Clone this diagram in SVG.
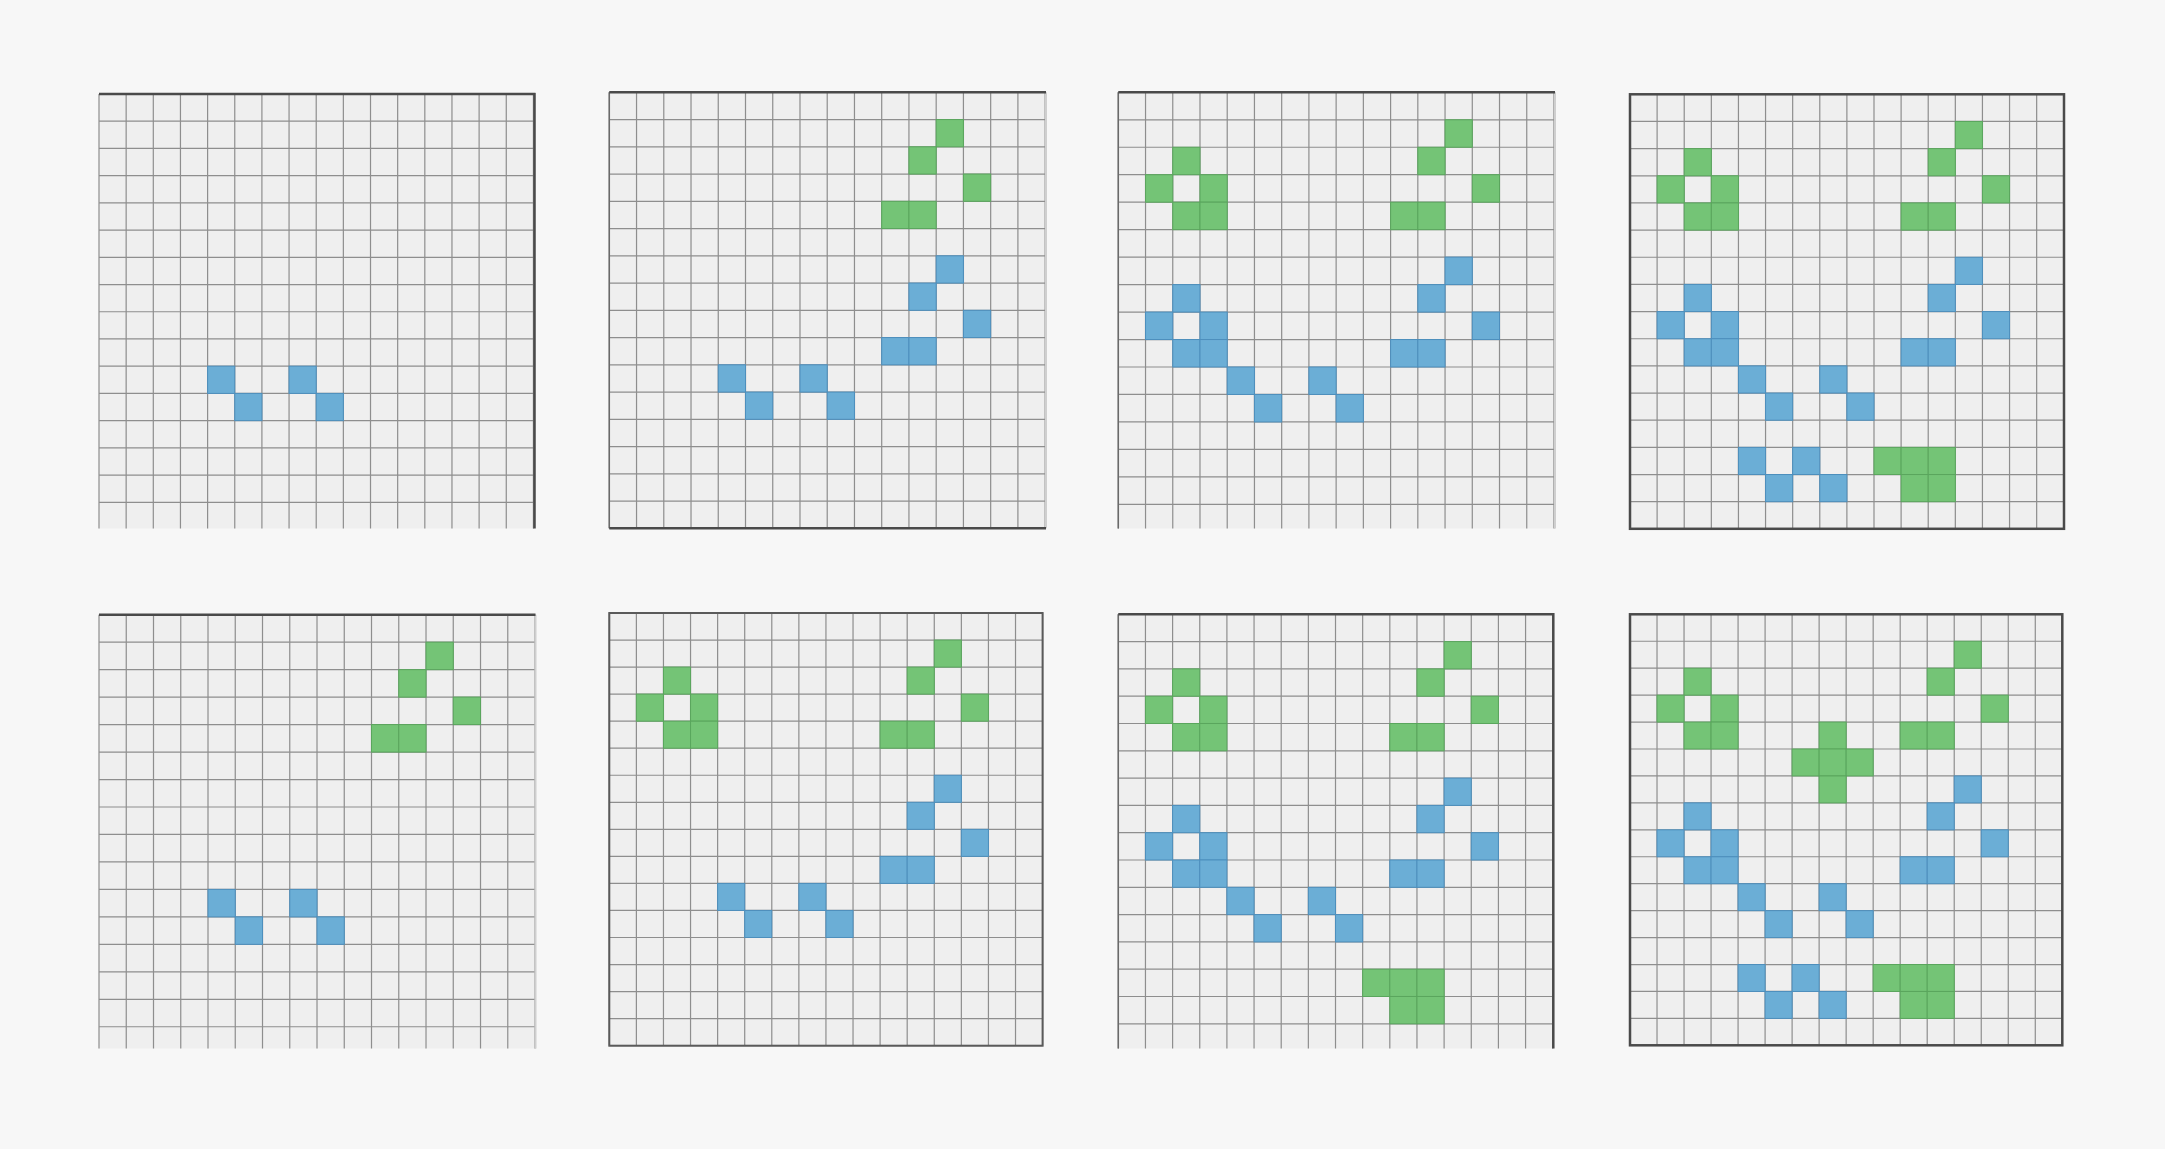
<svg xmlns="http://www.w3.org/2000/svg" xmlns:xlink="http://www.w3.org/1999/xlink" width="2165" height="1149" viewBox="0 0 2165 1149">
<style>
.b{fill:#6baed6;stroke:#4d8fbd;stroke-width:1}
.g{fill:#74c476;stroke:#5aa65d;stroke-width:1}
.bd{fill:none;stroke:#4a4a4a;stroke-width:2.5}
.bm{fill:none;stroke:#6a6a6a;stroke-width:1.5}
.bl{fill:none;stroke:#cfcfcf;stroke-width:2}
</style>
<defs>
<g id="grid">
<rect width="432" height="432" fill="#efefef"/>
<path d="M0 0V432M27 0V432M54 0V432M81 0V432M108 0V432M135 0V432M162 0V432M189 0V432M216 0V432M243 0V432M270 0V432M297 0V432M324 0V432M351 0V432M378 0V432M405 0V432M432 0V432M0 0H432M0 27H432M0 54H432M0 81H432M0 108H432M0 135H432M0 162H432M0 189H432M0 216H432M0 243H432M0 270H432M0 297H432M0 324H432M0 351H432M0 378H432M0 405H432M0 432H432" stroke="#8e8e8e" stroke-width="1.2" fill="none"/>
</g>
<g id="bot"><rect class="b" x="108" y="270" width="27" height="27"/><rect class="b" x="189" y="270" width="27" height="27"/><rect class="b" x="135" y="297" width="27" height="27"/><rect class="b" x="216" y="297" width="27" height="27"/></g>
<g id="gR"><rect class="g" x="324" y="27" width="27" height="27"/><rect class="g" x="297" y="54" width="27" height="27"/><rect class="g" x="351" y="81" width="27" height="27"/><rect class="g" x="270" y="108" width="27" height="27"/><rect class="g" x="297" y="108" width="27" height="27"/></g>
<g id="bR"><rect class="b" x="324" y="162" width="27" height="27"/><rect class="b" x="297" y="189" width="27" height="27"/><rect class="b" x="351" y="216" width="27" height="27"/><rect class="b" x="270" y="243" width="27" height="27"/><rect class="b" x="297" y="243" width="27" height="27"/></g>
<g id="gL"><rect class="g" x="54" y="54" width="27" height="27"/><rect class="g" x="27" y="81" width="27" height="27"/><rect class="g" x="81" y="81" width="27" height="27"/><rect class="g" x="54" y="108" width="27" height="27"/><rect class="g" x="81" y="108" width="27" height="27"/></g>
<g id="bL"><rect class="b" x="54" y="189" width="27" height="27"/><rect class="b" x="27" y="216" width="27" height="27"/><rect class="b" x="81" y="216" width="27" height="27"/><rect class="b" x="54" y="243" width="27" height="27"/><rect class="b" x="81" y="243" width="27" height="27"/></g>
<g id="lowB"><rect class="b" x="108" y="351" width="27" height="27"/><rect class="b" x="162" y="351" width="27" height="27"/><rect class="b" x="135" y="378" width="27" height="27"/><rect class="b" x="189" y="378" width="27" height="27"/></g>
<g id="lowG"><rect class="g" x="243" y="351" width="27" height="27"/><rect class="g" x="270" y="351" width="27" height="27"/><rect class="g" x="297" y="351" width="27" height="27"/><rect class="g" x="270" y="378" width="27" height="27"/><rect class="g" x="297" y="378" width="27" height="27"/></g>
<g id="plus"><rect class="g" x="189" y="108" width="27" height="27"/><rect class="g" x="162" y="135" width="27" height="27"/><rect class="g" x="189" y="135" width="27" height="27"/><rect class="g" x="216" y="135" width="27" height="27"/><rect class="g" x="189" y="162" width="27" height="27"/></g>
<clipPath id="c1"><rect x="90" y="85" width="460" height="443.5"/></clipPath>
<clipPath id="c3"><rect x="1110" y="85" width="460" height="443.5"/></clipPath>
<clipPath id="c5"><rect x="90" y="605" width="460" height="443.5"/></clipPath>
<clipPath id="c7"><rect x="1110" y="605" width="460" height="443.5"/></clipPath>
</defs>
<rect width="2165" height="1149" fill="#f7f7f7"/>

<g id="grid1">
<g clip-path="url(#c1)"><g transform="translate(99 94) scale(1.0056 1.0081)"><use href="#grid"/><use href="#bot"/></g></g>
<path class="bd" d="M99 94H535.5M534.5 93V528.5"/>
</g>

<g id="grid2">
<g transform="translate(609.3 92.3) scale(1.0089 1.0093)"><use href="#grid"/><use href="#gR"/><use href="#bR"/><use href="#bot"/></g>
<path class="bl" d="M1046 92.3V528.3"/>
<path class="bm" d="M609.3 92.3V528.3"/>
<path class="bd" d="M609.3 92.3H1046M609.3 528.3H1046"/>
</g>

<g id="grid3">
<g clip-path="url(#c3)"><g transform="translate(1118.3 92.3) scale(1.0085 1.0174)"><use href="#grid"/><use href="#gL"/><use href="#gR"/><use href="#bL"/><use href="#bR"/><use href="#bot"/></g></g>
<path class="bl" d="M1555 92.3V528.5"/>
<path class="bm" d="M1118.3 92.3V528.5"/>
<path class="bd" d="M1118.3 92.3H1555"/>
</g>

<g id="grid4">
<g transform="translate(1630 94.3) scale(1.0041 1.0059)"><use href="#grid"/><use href="#gL"/><use href="#gR"/><use href="#bL"/><use href="#bR"/><use href="#bot"/><use href="#lowB"/><use href="#lowG"/></g>
<rect class="bd" x="1630" y="94.3" width="434" height="434.5"/>
</g>

<g id="grid5">
<g clip-path="url(#c5)"><g transform="translate(99 614.7) scale(1.0093 1.0174)"><use href="#grid"/><use href="#gR"/><use href="#bot"/></g></g>
<path class="bl" d="M535.5 614.7V1048.5"/>
<path class="bd" d="M99 614.7H535.5"/>
</g>

<g id="grid6">
<g transform="translate(609.3 613) scale(1.003 1.0015)"><use href="#grid"/><use href="#gL"/><use href="#gR"/><use href="#bR"/><use href="#bot"/></g>
<rect fill="none" stroke="#5a5a5a" stroke-width="2" x="609.3" y="613" width="433.3" height="432.7"/>
</g>

<g id="grid7">
<g clip-path="url(#c7)"><g transform="translate(1118.3 614.3) scale(1.0056 1.0111)"><use href="#grid"/><use href="#gL"/><use href="#gR"/><use href="#bL"/><use href="#bR"/><use href="#bot"/><use href="#lowG"/></g></g>
<path class="bm" d="M1118.3 614.3V1048.5"/>
<path class="bd" d="M1118.3 614.3H1554M1553.3 613V1048.5"/>
</g>

<g id="grid8">
<g transform="translate(1630 614.3) scale(1.0007 0.9978)"><use href="#grid"/><use href="#gL"/><use href="#gR"/><use href="#bL"/><use href="#bR"/><use href="#bot"/><use href="#lowB"/><use href="#lowG"/><use href="#plus"/></g>
<rect class="bd" x="1630" y="614.3" width="432.3" height="431"/>
</g>
</svg>
